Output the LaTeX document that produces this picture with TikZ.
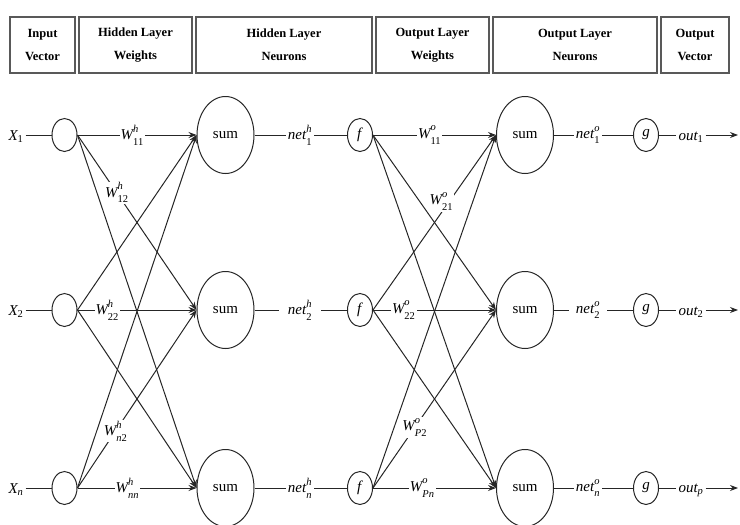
\documentclass[tikz,border=0pt]{standalone}
\usepackage{amsmath}
\usepackage{fontspec}
\setmainfont{Liberation Serif}
\usetikzlibrary{arrows.meta,calc,shapes.geometric}
\newcommand\vi[1]{\textit{#1}}
\newcommand\vr[1]{\textrm{#1}}
% symbol with a superscript and a subscript set a little apart
\newcommand\supsub[3]{#1^{\raisebox{2pt}{$\scriptstyle #2$}}_{\raisebox{-2pt}{$\scriptstyle #3$}}}
\begin{document}
\begin{tikzpicture}[x=1pt,y=-1pt,
  hdr/.style={draw=black!65, line width=1.5pt, minimum height=56pt, inner sep=0pt,
    align=center, font=\bfseries\fontsize{12.5}{23}\selectfont},
  wire/.style={draw=black!85, line width=1pt},
  tip/.style={-{Stealth[length=8pt,width=6pt]}},
  small/.style={draw=black!85, line width=1pt, ellipse, minimum width=25pt,
    minimum height=33pt, inner sep=0pt, font=\fontsize{15}{17}\selectfont},
  sumn/.style={draw=black!85, line width=1pt, ellipse, minimum width=57pt,
    minimum height=77pt, inner sep=0pt, font=\fontsize{15}{17}\selectfont},
  txt/.style={inner sep=2pt, font=\fontsize{15}{17}\selectfont},
  wl/.style={fill=white, inner sep=1pt, font=\fontsize{15}{17}\selectfont}]
\useasboundingbox (0,0) rectangle (740,525);

% header row
\node[hdr, minimum width=65pt]  (hb1) at (42.5,45)  {Input\\Vector};
\node[hdr, minimum width=113pt] (hb2) at (135.5,45) {Hidden Layer\\Weights};
\node[hdr, minimum width=176pt] (hb3) at (284,45)   {Hidden Layer\\Neurons};
\node[hdr, minimum width=113pt] (hb4) at (432.5,45) {Output Layer\\Weights};
\node[hdr, minimum width=164pt] (hb5) at (575,45)   {Output Layer\\Neurons};
\node[hdr, minimum width=68pt]  (hb6) at (695,45)   {Output\\Vector};

% neurons, one row per index
\foreach \i/\y in {1/135,2/310,3/488}{
  \node[small] (in\i) at (64.5,\y) {};
  \node[sumn]  (s\i)  at (225.5,\y) {sum};
  \node[small] (f\i)  at (360,\y) {\vi{f}};
  \node[sumn]  (os\i) at (525,\y) {sum};
  \node[small] (g\i)  at (646,\y) {\vi{g}};
  \coordinate (end\i) at (738,\y);
}

% inputs
\node[txt] (x1) at (16,137) {$\vi{X}_{\vr{1}}$};
\node[txt] (x2) at (16,312) {$\vi{X}_{\vr{2}}$};
\node[txt] (x3) at (16,490) {$\vi{X}_{\vi{n}}$};

% net values and outputs
\node[txt] (nh1) at (300,135) {$\supsub{\vi{net}}{\vi{h}}{\vr{1}}$};
\node[txt, inner xsep=9pt] (nh2) at (300,310) {$\supsub{\vi{net}}{\vi{h}}{\vr{2}}$};
\node[txt] (nh3) at (300,488) {$\supsub{\vi{net}}{\vi{h}}{\vi{n}}$};
\node[txt] (no1) at (588,135) {$\supsub{\vi{net}}{\vi{o}}{\vr{1}}$};
\node[txt, inner xsep=7pt] (no2) at (588,310) {$\supsub{\vi{net}}{\vi{o}}{\vr{2}}$};
\node[txt] (no3) at (588,488) {$\supsub{\vi{net}}{\vi{o}}{\vi{n}}$};
\node[txt] (o1) at (691,137) {$\vi{out}_{\vr{1}}$};
\node[txt] (o2) at (691,312) {$\vi{out}_{\vr{2}}$};
\node[txt] (o3) at (691,490) {$\vi{out}_{\vi{p}}$};

\foreach \i in {1,2,3}{
  \draw[wire] (x\i.east |- in\i.west) -- (in\i.west);
  \draw[wire] (s\i) -- (nh\i) -- (f\i);
  \draw[wire] (os\i) -- (no\i) -- (g\i);
  \draw[wire] (g\i.east) -- (o\i.west |- g\i.east);
  \draw[wire, tip] (o\i.east |- end\i) -- (end\i);
}

% fully connected weights
\foreach \i in {1,2,3}{
  \foreach \j in {1,2,3}{
    \draw[wire, tip] (in\i.east) -- (s\j.west);
    \draw[wire, tip] (f\i.east) -- (os\j.west);
  }
}

% weight labels
\node[wl] (wh11) at ($(in1.east)!0.46!(s1.west)$) {$\supsub{\vi{W}}{\vi{h}}{\vr{11}}$};
\node[wl] (wh12) at ($(in1.east)!0.33!(s2.west)$) {$\supsub{\vi{W}}{\vi{h}}{\vr{12}}$};
\node[wl] (wh22) at ($(in2.east)!0.25!(s2.west)$) {$\supsub{\vi{W}}{\vi{h}}{\vr{22}}$};
\node[wl] (whn2) at ($(in3.east)!0.32!(s2.west)$) {$\supsub{\vi{W}}{\vi{h}}{\vi{n}\vr{2}}$};
\node[wl] (whnn) at ($(in3.east)!0.42!(s3.west)$) {$\supsub{\vi{W}}{\vi{h}}{\vi{nn}}$};
\node[wl] (wo11) at ($(f1.east)!0.46!(os1.west)$) {$\supsub{\vi{W}}{\vi{o}}{\vr{11}}$};
\node[wl] (wo21) at ($(f2.east)!0.62!(os1.west)+(-8,0)$) {$\supsub{\vi{W}}{\vi{o}}{\vr{21}}$};
\node[wl] (wo22) at ($(f2.east)!0.25!(os2.west)$) {$\supsub{\vi{W}}{\vi{o}}{\vr{22}}$};
\node[wl] (wop2) at ($(f3.east)!0.34!(os2.west)$) {$\supsub{\vi{W}}{\vi{o}}{\vi{P}\vr{2}}$};
\node[wl] (wopn) at ($(f3.east)!0.40!(os3.west)$) {$\supsub{\vi{W}}{\vi{o}}{\vi{Pn}}$};
\end{tikzpicture}
\end{document}
